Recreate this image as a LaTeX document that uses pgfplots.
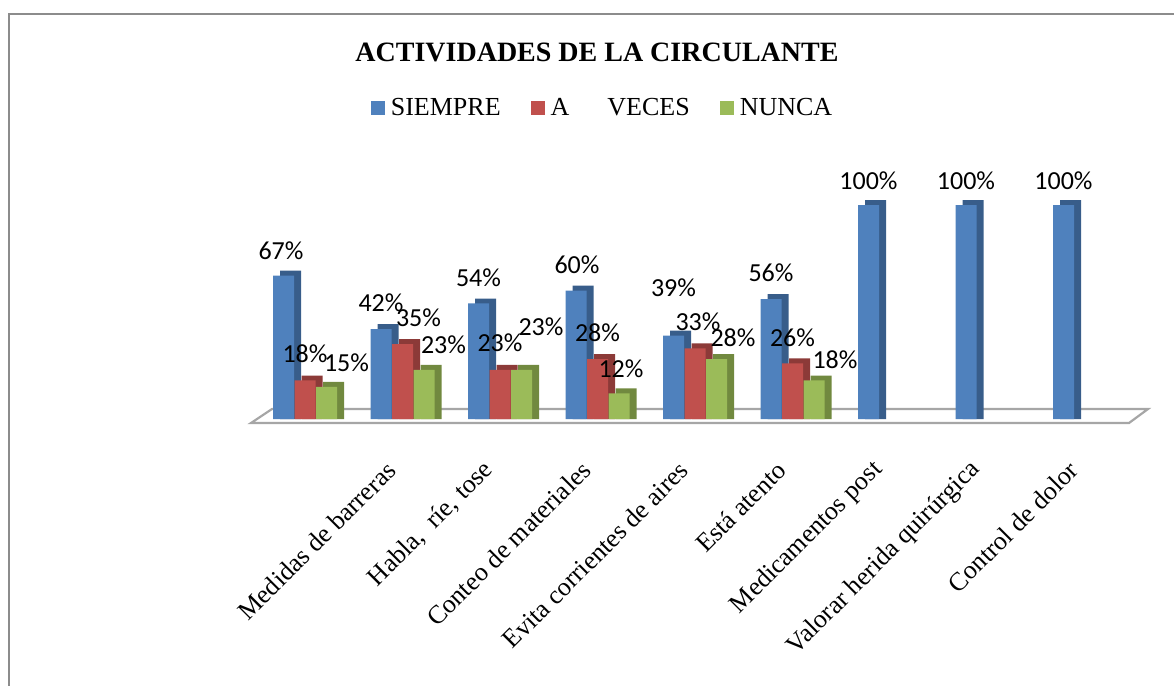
\documentclass[border=0pt]{standalone}
\usepackage{pgfplots}
\pgfplotsset{compat=1.18}
\usepackage{pgfplotstable}
\usepackage{fontspec}
\setmainfont{Liberation Serif}
\newfontfamily\carlito{Carlito}
\definecolor{bF}{HTML}{4F81BD}
\definecolor{bS}{HTML}{385D8A}
\definecolor{rF}{HTML}{C0504D}
\definecolor{rS}{HTML}{8C3A38}
\definecolor{gF}{HTML}{9BBB59}
\definecolor{gS}{HTML}{71893F}
\definecolor{frame}{HTML}{8C8C8C}
\definecolor{floor}{HTML}{A6A6A6}

% x = category index, y = percent, lx/ly = label offsets (pt)
\pgfplotstableread{
x y lx ly
0 67 -1.25 12.5
1 42 0 13
2 54 0 12.7
3 60 0.5 12.8
4 39 0 23.7
5 56 0 13
6 100 0 12
7 100 0 12
8 100 0 12
}\siempre
\pgfplotstableread{
x y lx ly
0 18 0 13.2
1 35 8 13
2 23 0 13.5
3 28 0 13
4 33 1.5 13.2
5 26 0 12.7
}\aveces
\pgfplotstableread{
x y lx ly
0 15 10 12
1 23 9.75 12.5
2 23 9.75 21.5
3 12 1 12.5
4 28 8.25 10.5
5 18 10.5 10.25
}\nunca

\begin{document}
\begin{tikzpicture}
\useasboundingbox (0pt,0pt) rectangle (587pt,-343pt);
\draw[color=frame, line width=1.3pt] (4.5pt,-350pt) -- (4.5pt,-7pt) -- (595pt,-7pt);
\draw[color=floor, line width=1.1pt, fill=white] (125.5pt,-211.5pt) -- (564.5pt,-211.5pt) -- (574pt,-204.5pt) -- (136pt,-204.5pt) -- cycle;
\node[font=\bfseries\fontsize{14}{16}\selectfont] at (298.5pt,-26pt) {ACTIVIDADES DE LA CIRCULANTE};
\begin{axis}[
  at={(123.25pt,-209.5pt)}, anchor=south west,
  scale only axis, x=48.75pt, y=1.07pt,
  xmin=-0.6, xmax=8.6, ymin=0, ymax=100,
  clip=false,
  axis line style={draw=none},
  ytick=\empty,
  xtick={0,...,8},
  xticklabels={{},{Medidas de barreras},{Habla,\ \ ríe, tose},{Conteo de materiales},{Evita corrientes de aires},{Está atento},{Medicamentos post},{Valorar herida quirúrgica},{Control de dolor}},
  major tick length=0pt,
  xticklabel style={font=\fontsize{13}{15}\selectfont, xshift=-5.5pt, yshift=-23.5pt, rotate=45, anchor=east, inner sep=0pt},
  /pgf/number format/assume math mode=true,
  ybar, bar width=10.5pt,
  legend columns=3,
  legend style={draw=none, fill=none, at={(0.3958,1.453)}, anchor=center,
    font=\fontsize{13}{15}\selectfont, nodes={inner sep=0pt},
    /tikz/every odd column/.append style={column sep=3pt},
    /tikz/every even column/.append style={column sep=15pt}},
  legend image code/.code={\fill[#1] (0pt,-3.5pt) rectangle (7pt,3.5pt);},
  lbl/.style={
    nodes near coords={\pgfmathprintnumber{\pgfplotspointmeta}\%},
    visualization depends on={\thisrow{lx} \as \lx},
    visualization depends on={\thisrow{ly} \as \ly},
    every node near coord/.append style={font=\carlito\fontsize{13}{15}\selectfont, color=black, anchor=center, inner sep=0pt, xshift=\lx pt, yshift=\ly pt}},
]
% depth (side/top) faces
\addplot[fill=bS, draw=none, bar shift=-7.25pt, forget plot] table[x=x, y expr=\thisrow{y}+2.3]{\siempre};
\addplot[fill=rS, draw=none, bar shift=3.5pt, forget plot] table[x=x, y expr=\thisrow{y}+2.3]{\aveces};
\addplot[fill=gS, draw=none, bar shift=14.25pt, forget plot] table[x=x, y expr=\thisrow{y}+2.3]{\nunca};
% front faces
\addplot[fill=bF, draw=none, bar shift=-10.75pt, lbl] table[x=x, y=y]{\siempre};
\addplot[fill=rF, draw=none, bar shift=0pt, lbl] table[x=x, y=y]{\aveces};
\addplot[fill=gF, draw=none, bar shift=10.75pt, lbl] table[x=x, y=y]{\nunca};
\legend{SIEMPRE, A\hspace{19pt}VECES, NUNCA}
\end{axis}
\end{tikzpicture}
\end{document}
